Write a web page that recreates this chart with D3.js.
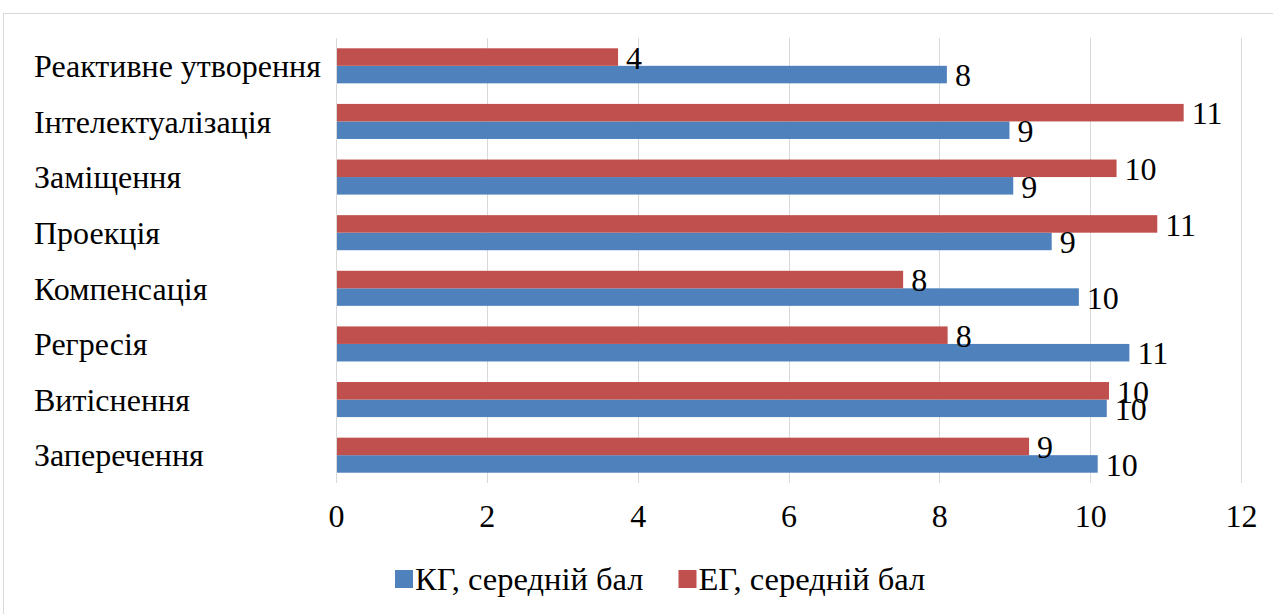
<!DOCTYPE html>
<html>
<head>
<meta charset="utf-8">
<script src="https://cdn.jsdelivr.net/npm/d3@7"></script>
<style>
  html, body { margin: 0; padding: 0; background: #fff; }
  svg { display: block; }
  text { font-family: "Liberation Serif", "Times New Roman", serif; fill: #000; }
</style>
</head>
<body>
<svg id="chart" width="1273" height="614"></svg>
<script>
// Психологічні захисти: середні бали контрольної та експериментальної груп
const categories = [
  "Реактивне утворення",
  "Інтелектуалізація",
  "Заміщення",
  "Проекція",
  "Компенсація",
  "Регресія",
  "Витіснення",
  "Заперечення"
];
const kgValues = [8.10, 8.93, 8.98, 9.49, 9.85, 10.52, 10.22, 10.10];
const egValues = [3.74, 11.24, 10.35, 10.89, 7.52, 8.11, 10.25, 9.19];
const seriesNames = ["КГ, середній бал", "ЕГ, середній бал"];
const seriesColors = ["#4f81bd", "#c0504d"];
const xTicks = [0, 2, 4, 6, 8, 10, 12];

const W = 1273, H = 614;
const plot = { left: 336, right: 1241, top: 38, bottom: 483 };
const FONT = "32px";

const svg = d3.select("#chart");

// outer chart frame
svg.append("rect")
  .attr("x", 3.5).attr("y", 13.5)
  .attr("width", W).attr("height", H)
  .attr("fill", "#fff").attr("stroke", "#d9d9d9");

const x = d3.scaleLinear().domain([0, 12]).range([plot.left, plot.right]);
const y = d3.scaleBand().domain(categories).range([plot.top, plot.bottom])
  .paddingInner(0.37).paddingOuter(0.185);
const sub = d3.scaleBand().domain([1, 0]).range([0, y.bandwidth()]);

// vertical gridlines
svg.append("g")
  .selectAll("line")
  .data(xTicks)
  .join("line")
  .attr("x1", d => Math.round(x(d)) + 0.5)
  .attr("x2", d => Math.round(x(d)) + 0.5)
  .attr("y1", plot.top).attr("y2", plot.bottom)
  .attr("stroke", "#d9d9d9").attr("stroke-width", 1);

// x axis labels
const xAxis = d3.axisBottom(x).tickValues(xTicks).tickSize(0).tickPadding(0)
  .tickFormat(d3.format("d"));
const gx = svg.append("g").attr("transform", `translate(0,${plot.bottom + 44})`).call(xAxis);
gx.select(".domain").remove();
gx.selectAll("text")
  .attr("y", 0).attr("dy", null)
  .style("font-family", "Liberation Serif, serif")
  .style("font-size", FONT).attr("fill", "#000");

// category labels, left aligned
svg.append("g")
  .selectAll("text")
  .data(categories)
  .join("text")
  .attr("x", 34)
  .attr("y", d => y(d) + y.bandwidth() / 2)
  .attr("dy", "0.35em")
  .style("font-size", FONT)
  .text(d => d);

const rows = categories.map((c, i) => ({ c, vals: [kgValues[i], egValues[i]] }));
const fmt = d3.format(".0f");

const groups = svg.append("g").selectAll("g")
  .data(rows)
  .join("g")
  .attr("transform", d => `translate(0,${y(d.c)})`);

groups.selectAll("rect")
  .data(d => d.vals.map((v, s) => ({ v, s })))
  .join("rect")
  .attr("x", x(0) + 1)
  .attr("y", d => sub(d.s))
  .attr("width", d => x(d.v) - x(0) - 1)
  .attr("height", sub.bandwidth())
  .attr("fill", d => seriesColors[d.s]);

groups.selectAll("text.val")
  .data(d => d.vals.map((v, s) => ({ v, s })))
  .join("text")
  .attr("class", "val")
  .attr("x", d => x(d.v) + 8)
  .attr("y", d => sub(d.s) + sub.bandwidth() / 2 + 0.5)
  .attr("dy", "0.35em")
  .style("font-size", FONT)
  .text(d => fmt(d.v));

// legend: swatch + name, laid out left to right
const legend = svg.append("g").attr("transform", "translate(395,579)");
let cursor = 0;
seriesNames.forEach((name, i) => {
  const g = legend.append("g").attr("transform", `translate(${cursor},0)`);
  g.append("rect").attr("x", 0).attr("y", -9).attr("width", 18).attr("height", 18)
    .attr("fill", seriesColors[i]);
  const t = g.append("text").attr("x", 20).attr("y", 0).attr("dy", "0.35em")
    .style("font-size", "32.5px").text(name);
  cursor += 20 + t.node().getComputedTextLength() + 35;
});
</script>
</body>
</html>
